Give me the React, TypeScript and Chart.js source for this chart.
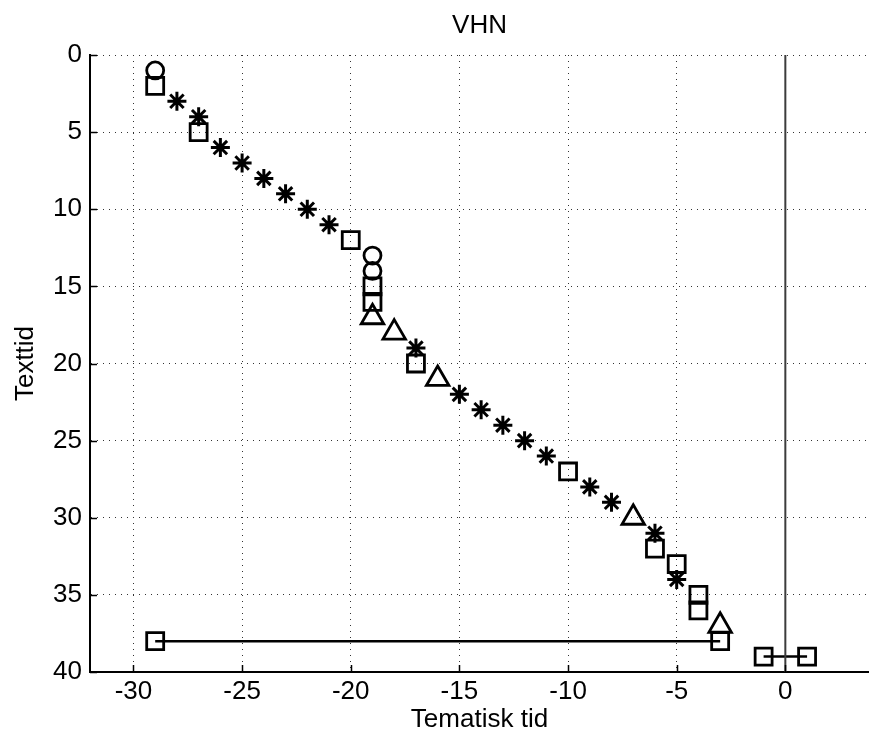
import { useEffect, useRef } from 'react';
import { Chart, registerables } from 'chart.js';

Chart.register(...registerables);

// ---- data (Tematisk tid = x, Texttid = y) ----
const circleX = [-29, -19, -19];
const circleY = [1, 13, 14];

const squareX = [-29, -27, -20, -19, -19, -17, -10, -6, -5, -4, -4];
const squareY = [2, 5, 12, 15, 16, 20, 27, 32, 33, 35, 36];

const triangleX = [-19, -18, -16, -7, -3];
const triangleY = [17, 18, 21, 30, 37];

const starX = [-28, -27, -26, -25, -24, -23, -22, -21, -17, -15, -14, -13, -12, -11, -9, -8, -6, -5];
const starY = [3, 4, 6, 7, 8, 9, 10, 11, 19, 22, 23, 24, 25, 26, 28, 29, 31, 34];

const segAX = [-29, -3];
const segAY = [38, 38];

const segBX = [-1, 1];
const segBY = [39, 39];

const zeroLineX = [0, 0];
const zeroLineY = [0, 40];

const xTicks = [-30, -25, -20, -15, -10, -5, 0];
const yTicks = [0, 5, 10, 15, 20, 25, 30, 35, 40];

const pts = (xs: number[], ys: number[]) => xs.map((x, i) => ({ x, y: ys[i] }));

const FONT = "'Liberation Sans', Arial, Helvetica, sans-serif";

const inwardTicks = {
  id: 'inwardTicks',
  afterDraw(chart: any) {
    const { ctx, chartArea } = chart;
    const xs = chart.scales.x;
    const ys = chart.scales.y;
    ctx.save();
    ctx.strokeStyle = '#000';
    ctx.lineWidth = 1.5;
    ctx.beginPath();
    xs.ticks.forEach((t: any) => {
      const px = Math.round(xs.getPixelForValue(t.value)) + 0.5;
      ctx.moveTo(px, chartArea.bottom);
      ctx.lineTo(px, chartArea.bottom - 7);
    });
    ys.ticks.forEach((t: any) => {
      const py = Math.round(ys.getPixelForValue(t.value)) + 0.5;
      ctx.moveTo(chartArea.left, py);
      ctx.lineTo(chartArea.left + 7, py);
    });
    ctx.stroke();
    ctx.restore();
  },
};

export default function App() {
  const ref = useRef<HTMLCanvasElement>(null);

  useEffect(() => {
    if (!ref.current) return;
    const marker = {
      xAxisID: 'x',
      yAxisID: 'y',
      showLine: false,
      pointBorderColor: '#000',
      pointBackgroundColor: 'rgba(0,0,0,0)',
      pointBorderWidth: 2.8,
      pointHoverRadius: 0,
    };
    const chart = new Chart(ref.current, {
      type: 'scatter',
      data: {
        datasets: [
          {
            label: 'zero',
            data: pts(zeroLineX, zeroLineY),
            xAxisID: 'x',
            yAxisID: 'y',
            showLine: true,
            borderColor: '#3c3c3c',
            borderWidth: 2,
            pointRadius: 0,
          },
          {
            ...marker,
            label: 'segA',
            data: pts(segAX, segAY),
            showLine: true,
            borderColor: '#000',
            borderWidth: 2.5,
            pointStyle: 'rect',
            pointRadius: 12,
          },
          {
            ...marker,
            label: 'segB',
            data: pts(segBX, segBY),
            showLine: true,
            borderColor: '#000',
            borderWidth: 2.5,
            pointStyle: 'rect',
            pointRadius: 12,
          },
          { ...marker, label: 'circle', data: pts(circleX, circleY), pointStyle: 'circle', pointRadius: 8.5 },
          { ...marker, label: 'square', data: pts(squareX, squareY), pointStyle: 'rect', pointRadius: 12 },
          { ...marker, label: 'triangle', data: pts(triangleX, triangleY), pointStyle: 'triangle', pointRadius: 13 },
          { ...marker, label: 'star', data: pts(starX, starY), pointStyle: 'star', pointRadius: 9.5, pointBorderWidth: 3 },
        ],
      },
      options: {
        animation: false,
        responsive: false,
        events: [],
        layout: { padding: 0, autoPadding: false },
        plugins: {
          legend: { display: false },
          tooltip: { enabled: false },
          title: { display: false },
        },
        scales: {
          x2: {
            type: 'linear',
            position: 'top',
            grid: { display: false, drawTicks: false },
            border: { display: false },
            ticks: { display: false },
            title: {
              display: true,
              text: 'VHN',
              color: '#000',
              font: { family: FONT, size: 26 },
              padding: { top: 10, bottom: 0 },
            },
            afterFit: (s: any) => {
              s.height = 55;
            },
          },
          x: {
            type: 'linear',
            position: 'bottom',
            min: -32,
            max: 3.85,
            afterBuildTicks: (s: any) => {
              s.ticks = xTicks.map((v) => ({ value: v }));
            },
            afterFit: (s: any) => {
              s.height = 69;
            },
            grid: { color: '#333', lineWidth: 1, drawTicks: false },
            border: { display: true, color: '#000', width: 2, dash: [1, 5] },
            ticks: {
              color: '#000',
              font: { family: FONT, size: 26 },
              padding: 4,
              maxRotation: 0,
              autoSkip: false,
            },
            title: {
              display: true,
              text: 'Tematisk tid',
              color: '#000',
              font: { family: FONT, size: 26 },
              padding: { top: 0, bottom: 6 },
            },
          },
          y: {
            type: 'linear',
            position: 'left',
            reverse: true,
            min: 0,
            max: 40,
            afterBuildTicks: (s: any) => {
              s.ticks = yTicks.map((v) => ({ value: v }));
            },
            afterFit: (s: any) => {
              s.width = 90;
            },
            grid: { color: '#333', lineWidth: 1, drawTicks: false },
            border: { display: true, color: '#000', width: 2, dash: [1, 5] },
            ticks: {
              color: '#000',
              font: { family: FONT, size: 26 },
              padding: 8,
              autoSkip: false,
            },
            title: {
              display: true,
              text: 'Texttid',
              color: '#000',
              font: { family: FONT, size: 26 },
              padding: { top: 10, bottom: 0 },
            },
          },
        },
      },
      plugins: [inwardTicks],
    } as any);
    return () => chart.destroy();
  }, []);

  return (
    <div style={{ position: 'fixed', left: 0, top: 0, width: 869, height: 741, background: '#fff' }}>
      <canvas ref={ref} width={869} height={741} style={{ display: 'block', width: 869, height: 741 }} />
    </div>
  );
}
